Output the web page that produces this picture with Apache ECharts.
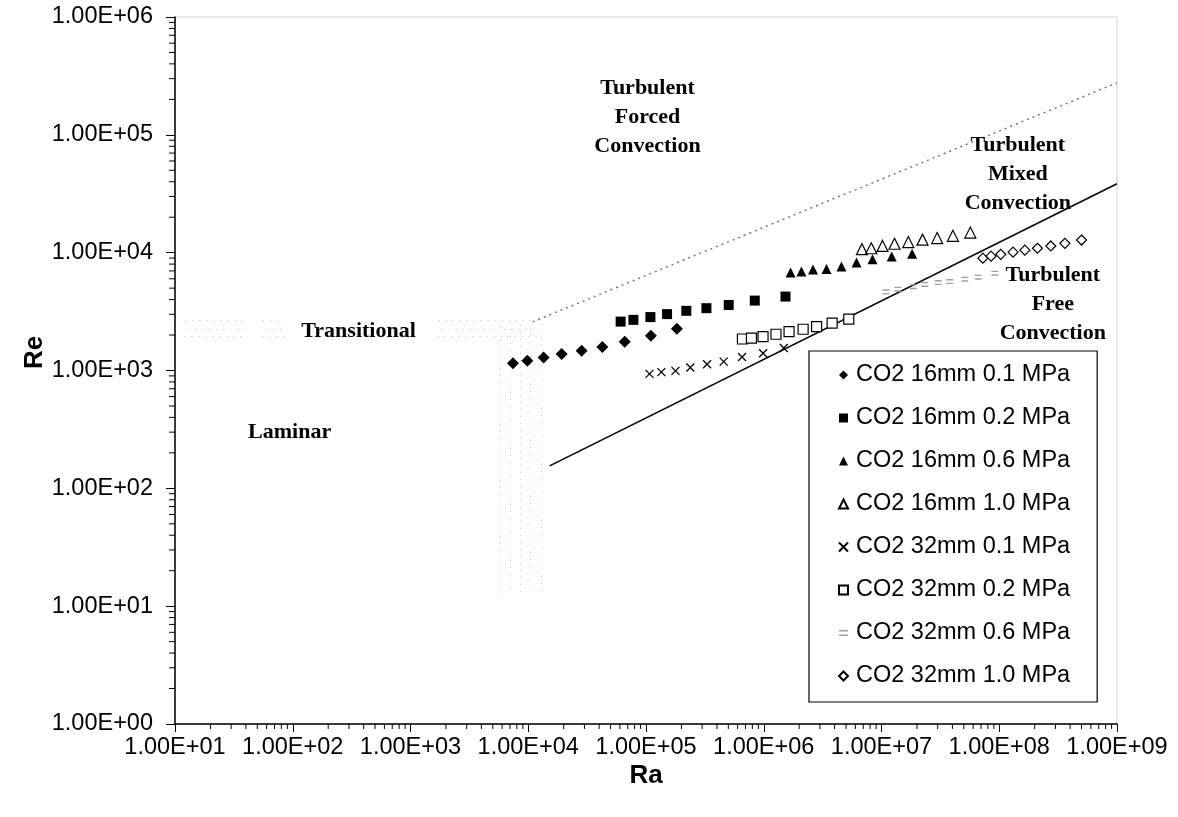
<!DOCTYPE html>
<html>
<head>
<meta charset="utf-8">
<script src="https://cdn.jsdelivr.net/npm/echarts@6/dist/echarts.min.js"></script>
<style>
  html, body { margin: 0; padding: 0; background: #fff; }
  #chart { width: 1178px; height: 817px; }
</style>
</head>
<body>
<div id="chart"></div>
<script>
// Re versus Ra flow-regime map with CO2 measurements (16 mm and 32 mm tubes)

const seriesNames = [
  'CO2 16mm 0.1 MPa', 'CO2 16mm 0.2 MPa', 'CO2 16mm 0.6 MPa', 'CO2 16mm 1.0 MPa',
  'CO2 32mm 0.1 MPa', 'CO2 32mm 0.2 MPa', 'CO2 32mm 0.6 MPa', 'CO2 32mm 1.0 MPa'
];

const ra16_01 = [7410, 9820, 13500, 19200, 28400, 42600, 65900, 110000, 183000];
const re16_01 = [1150, 1210, 1290, 1380, 1470, 1580, 1750, 1970, 2260];

const ra16_02 = [60900, 78200, 109000, 151000, 220000, 326000, 504000, 839000, 1530000];
const re16_02 = [2600, 2690, 2840, 3010, 3210, 3380, 3600, 3920, 4240];

const ra16_06 = [1690000, 2090000, 2620000, 3410000, 4570000, 6130000, 8390000, 12200000, 18200000];
const re16_06 = [6780, 6920, 7190, 7280, 7620, 8240, 8810, 9270, 9770];

const ra16_10 = [6820000, 8190000, 10200000, 12900000, 16900000, 22300000, 29700000, 40400000, 56800000];
const re16_10 = [10700, 10900, 11400, 11900, 12300, 12900, 13300, 13900, 14800];

const ra32_01 = [107000, 135000, 178000, 238000, 330000, 457000, 654000, 987000, 1480000];
const re32_01 = [936, 968, 992, 1060, 1130, 1190, 1300, 1400, 1550];

const ra32_02 = [659000, 786000, 986000, 1270000, 1640000, 2160000, 2810000, 3810000, 5270000];
const re32_02 = [1850, 1880, 1940, 2030, 2140, 2240, 2360, 2520, 2730];

const ra32_06 = [10900000, 13800000, 18600000, 23300000, 30300000, 38000000, 51000000, 66200000, 91800000];
const re32_06 = [4650, 4900, 5150, 5380, 5570, 5690, 5960, 6200, 6700];

const ra32_10 = [72600000, 85200000, 103000000, 131000000, 165000000, 211000000, 274000000, 361000000, 500000000];
const re32_10 = [8980, 9340, 9680, 10100, 10500, 10900, 11400, 12000, 12800];

// regime boundaries
const freeMixedRa = [15200, 1e9];
const freeMixedRe = [155, 38400];
const forcedMixedRa = [10900, 1e9];
const forcedMixedRe = [2590, 276000];

// speckled transitional band: horizontal segments and vertical strands
const transBandRe = [1950, 2250, 2650];
const transBandRaSpans = [[12, 40], [55, 85], [1700, 12000]];
const transStrandRa = [5800, 7000, 8500, 10500, 12800];
const transStrandRe = [13, 2600];

// regime labels
const regionNames = ['Turbulent\nForced\nConvection', 'Turbulent\nMixed\nConvection',
  'Turbulent\nFree\nConvection', 'Transitional', 'Laminar'];
const regionRa = [103000, 143800000, 285000000, 362, 94];
const regionRe = [142000, 46600, 3680, 2130, 301];

// axis ranges and minor-tick layout
const raRange = [10, 1e9];
const reRange = [1, 1e6];
const raDecades = [10, 100, 1e3, 1e4, 1e5, 1e6, 1e7, 1e8];
const reDecades = [1, 10, 100, 1e3, 1e4, 1e5];
const minorMultipliers = [2, 3, 4, 5, 6, 7, 8, 9];

const zip = (xs, ys) => xs.map((x, i) => [x, ys[i]]);

const sansFont = '"Liberation Sans", Arial, sans-serif';
const serifFont = '"Liberation Serif", "Times New Roman", serif';

function sciLabel(v) {
  const e = Math.round(Math.log10(v));
  return '1.00E' + (e < 0 ? '-' : '+') + String(Math.abs(e)).padStart(2, '0');
}

const raMinor = [];
raDecades.forEach(d => minorMultipliers.forEach(m => raMinor.push([d * m, reRange[0]])));
const reMinor = [];
reDecades.forEach(d => minorMultipliers.forEach(m => reMinor.push([raRange[0], d * m])));

const bandSegments = [];
transBandRe.forEach((re, k) => transBandRaSpans.forEach(sp => {
  bandSegments.push({ coords: [[sp[0], re], [sp[1], re]], lineStyle: { dashOffset: k * 3 } });
}));
transStrandRa.forEach((ra, k) => {
  bandSegments.push({ coords: [[ra, transStrandRe[0]], [ra, transStrandRe[1]]], lineStyle: { dashOffset: k * 3 } });
});

function scatterSeries(name, xs, ys, symbol, size, itemStyle) {
  return {
    name: name, type: 'scatter', data: zip(xs, ys), symbol: symbol,
    symbolSize: size, itemStyle: Object.assign({ opacity: 1 }, itemStyle), z: 5
  };
}

const solid = { color: '#000' };
const hollow = { color: '#fff', borderColor: '#000', borderWidth: 1.2 };
const crossPath = 'path://M0,0L10,10M10,0L0,10';
const dashPairPath = 'path://M0,0L8,0L8,1.5L0,1.5ZM0,4L8,4L8,5.5L0,5.5Z';

const chart = echarts.init(document.getElementById('chart'), null, { renderer: 'canvas' });

chart.setOption({
  backgroundColor: '#fff',
  animation: false,
  grid: {
    left: 175, top: 17, right: 61, bottom: 93,
    containLabel: false, outerBoundsMode: 'none',
    show: true, borderColor: '#d0d0d0', borderWidth: 1
  },
  legend: {
    data: seriesNames,
    orient: 'vertical',
    left: 809, top: 351,
    padding: [12, 27, 14, 29],
    itemGap: 19,
    itemWidth: 9, itemHeight: 9,
    backgroundColor: '#fff',
    borderColor: '#000', borderWidth: 1.2, borderRadius: 0,
    textStyle: { fontFamily: sansFont, fontSize: 23.5, color: '#000', lineHeight: 24, padding: [0, 0, 0, 3] },
    selectedMode: false
  },
  xAxis: {
    type: 'log', logBase: 10, min: raRange[0], max: raRange[1], splitNumber: 8,
    name: 'Ra', nameLocation: 'middle', nameGap: 39, nameMoveOverlap: false,
    nameTextStyle: { fontFamily: sansFont, fontSize: 26, fontWeight: 'bold', color: '#000' },
    axisLine: { show: true, onZero: false, lineStyle: { color: '#000', width: 1.5 } },
    axisTick: { show: true, inside: false, length: 8, lineStyle: { color: '#000', width: 1 } },
    axisLabel: { formatter: sciLabel, fontFamily: sansFont, fontSize: 23.5, color: '#000', margin: 12 },
    splitLine: { show: false }
  },
  yAxis: {
    type: 'log', logBase: 10, min: reRange[0], max: reRange[1], splitNumber: 6,
    name: 'Re', nameLocation: 'middle', nameGap: 127, nameMoveOverlap: false,
    nameTextStyle: { fontFamily: sansFont, fontSize: 26, fontWeight: 'bold', color: '#000', padding: [0, 0, 0, 36] },
    axisLine: { show: true, onZero: false, lineStyle: { color: '#000', width: 1.5 } },
    axisTick: { show: true, inside: false, length: 9, lineStyle: { color: '#000', width: 1 } },
    axisLabel: { formatter: sciLabel, fontFamily: sansFont, fontSize: 23.5, color: '#000', margin: 22 },
    splitLine: { show: false }
  },
  series: [
    // speckled transitional band
    {
      name: 'transitional band', type: 'lines', coordinateSystem: 'cartesian2d',
      data: bandSegments, silent: true, z: 1,
      lineStyle: { color: '#b0b0b0', width: 1, type: [1, 6], opacity: 0.85 }
    },
    // forced / mixed boundary
    {
      name: 'forced-mixed boundary', type: 'line', data: zip(forcedMixedRa, forcedMixedRe),
      symbol: 'none', silent: true, z: 2,
      lineStyle: { color: '#6e6e6e', width: 1.4, type: [2, 4] }
    },
    // mixed / free boundary
    {
      name: 'mixed-free boundary', type: 'line', data: zip(freeMixedRa, freeMixedRe),
      symbol: 'none', silent: true, z: 2,
      lineStyle: { color: '#000', width: 1.6 }
    },
    scatterSeries(seriesNames[0], ra16_01, re16_01, 'diamond', 12, solid),
    scatterSeries(seriesNames[1], ra16_02, re16_02, 'rect', 10, solid),
    scatterSeries(seriesNames[2], ra16_06, re16_06, 'triangle', 10, solid),
    scatterSeries(seriesNames[3], ra16_10, re16_10, 'triangle', 11, hollow),
    scatterSeries(seriesNames[4], ra32_01, re32_01, crossPath, 8,
      { color: 'transparent', borderColor: '#000', borderWidth: 1.3 }),
    scatterSeries(seriesNames[5], ra32_02, re32_02, 'rect', 10, hollow),
    scatterSeries(seriesNames[6], ra32_06, re32_06, dashPairPath, [7, 5],
      { color: '#a0a0a0' }),
    scatterSeries(seriesNames[7], ra32_10, re32_10, 'diamond', 10, hollow),
    // regime labels
    {
      name: 'regimes', type: 'scatter', data: zip(regionRa, regionRe).map((p, i) => ({ value: p, name: regionNames[i] })),
      symbolSize: 0, silent: true, z: 4, itemStyle: { opacity: 1 },
      label: {
        show: true, position: 'inside', formatter: p => p.name,
        fontFamily: serifFont, fontWeight: 'bold', fontSize: 22, lineHeight: 29,
        color: '#000', opacity: 1, align: 'center', verticalAlign: 'middle'
      }
    },
    // logarithmic minor ticks along Ra
    {
      name: 'ra minor ticks', type: 'custom', data: raMinor, clip: false, silent: true, z: 6,
      renderItem: (params, api) => {
        const p = api.coord([api.value(0), api.value(1)]);
        return { type: 'line', shape: { x1: p[0], y1: p[1], x2: p[0], y2: p[1] + 5 },
          style: { stroke: '#000', lineWidth: 1 } };
      }
    },
    // logarithmic minor ticks along Re
    {
      name: 're minor ticks', type: 'custom', data: reMinor, clip: false, silent: true, z: 6,
      renderItem: (params, api) => {
        const p = api.coord([api.value(0), api.value(1)]);
        return { type: 'line', shape: { x1: p[0], y1: p[1], x2: p[0] - 6, y2: p[1] },
          style: { stroke: '#000', lineWidth: 1 } };
      }
    }
  ]
});
</script>
</body>
</html>
